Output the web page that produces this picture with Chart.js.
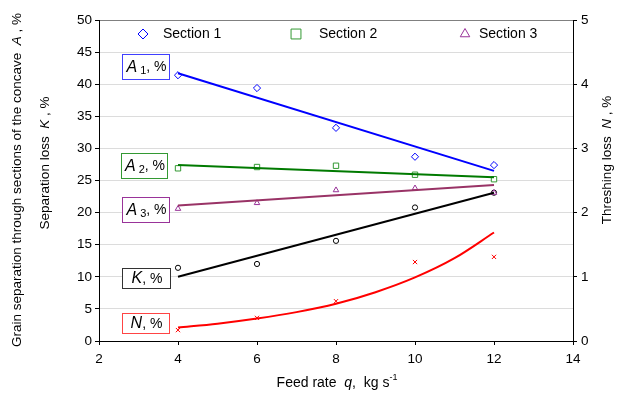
<!DOCTYPE html>
<html>
<head>
<meta charset="utf-8">
<script src="https://cdn.jsdelivr.net/npm/chart.js@4"></script>
<style>
  html, body { margin: 0; padding: 0; background: #fff; }
  #wrap { width: 627px; height: 396px; }
</style>
</head>
<body>
<div id="wrap"><canvas id="chart" width="627" height="396"></canvas></div>
<script>
// feed rate q, kg/s
const feedRate = [4, 6, 8, 10, 12]
// measured points
const section1 = [41.4, 39.4, 33.2, 28.7, 27.4]
const section2 = [26.9, 27.1, 27.3, 25.9, 25.2]
const section3 = [20.6, 21.5, 23.5, 23.8, 23.1]
const sepLossK = [11.4, 12.0, 15.6, 20.8, 23.1]
const threshLossN = [0.17, 0.36, 0.62, 1.23, 1.31]
// trend lines
const trendX = [4, 12]
const trendA1 = [41.7, 26.5]
const trendA2 = [27.4, 25.5]
const trendA3 = [21.1, 24.3]
const trendK = [10.0, 23.1]
const trendNx = [4, 5, 6, 7, 8, 9, 10, 11, 12]
const trendN = [0.21, 0.27, 0.35, 0.45, 0.58, 0.76, 0.99, 1.29, 1.69]

const FONT = "'Liberation Sans', Arial, sans-serif"

const pts = (xs, ys) => xs.map((x, i) => ({ x, y: ys[i] }))

const marker = (label, data, color, style, size, axis) => ({
  type: 'scatter',
  label,
  data,
  yAxisID: axis || 'y',
  showLine: false,
  pointStyle: style,
  pointRadius: size,
  pointBorderWidth: 1,
  pointBackgroundColor: 'rgba(255,255,255,1)',
  pointBorderColor: color,
  borderColor: color,
  backgroundColor: 'rgba(255,255,255,1)',
})

const trend = (data, color, axis, smooth) => ({
  type: 'line',
  data,
  yAxisID: axis || 'y',
  borderColor: color,
  borderWidth: 2,
  pointRadius: 0,
  fill: false,
  cubicInterpolationMode: smooth ? 'monotone' : 'default',
  tension: smooth ? 0.4 : 0,
})

// draw a row of text pieces (plain / italic / sub / sup)
function richText(ctx, parts, x, y, align) {
  let w = 0
  parts.forEach(p => {
    ctx.font = (p.italic ? 'italic ' : '') + (p.size || 14) + 'px ' + FONT
    p.w = ctx.measureText(p.t).width
    w += p.w
  })
  let cx = align === 'center' ? x - w / 2 : x
  ctx.textBaseline = 'middle'
  ctx.textAlign = 'left'
  parts.forEach(p => {
    ctx.font = (p.italic ? 'italic ' : '') + (p.size || 14) + 'px ' + FONT
    ctx.fillText(p.t, cx, y + (p.dy || 0))
    cx += p.w
  })
}

const labelBoxes = [
  { sym: 'A', sub: '1', x: 122, y: 54, w: 47, h: 25, color: '#4040ff' },
  { sym: 'A', sub: '2', x: 121, y: 153, w: 46, h: 25, color: '#339933' },
  { sym: 'A', sub: '3', x: 122, y: 197, w: 47, h: 25, color: '#993399' },
  { sym: 'K', sub: '', x: 122, y: 268, w: 48, h: 20, color: '#333333' },
  { sym: 'N', sub: '', x: 122, y: 313, w: 47, h: 20, color: '#ff4444' },
]

const legendItems = [
  { text: 'Section 1', mx: 143, tx: 163, color: '#0000ff', style: 'rectRot', r: 5 },
  { text: 'Section 2', mx: 296, tx: 319, color: '#339933', style: 'rect', r: 7 },
  { text: 'Section 3', mx: 465, tx: 479, color: '#993399', style: 'triangle', r: 5.5 },
]

const decor = {
  id: 'decor',
  afterDraw(chart) {
    const ctx = chart.ctx
    ctx.save()

    // legend inside the plot
    legendItems.forEach(it => {
      ctx.strokeStyle = it.color
      ctx.fillStyle = '#fff'
      ctx.lineWidth = 1
      Chart.helpers.drawPoint(ctx, { pointStyle: it.style, radius: it.r, rotation: 0, borderWidth: 1 }, it.mx, 34)
      ctx.fillStyle = '#000'
      ctx.font = '14px ' + FONT
      ctx.textBaseline = 'middle'
      ctx.textAlign = 'left'
      ctx.fillText(it.text, it.tx, 34)
    })

    // boxed series labels
    labelBoxes.forEach(b => {
      ctx.fillStyle = '#fff'
      ctx.fillRect(b.x, b.y, b.w, b.h)
      ctx.strokeStyle = b.color
      ctx.lineWidth = 1
      ctx.strokeRect(b.x + 0.5, b.y + 0.5, b.w, b.h)
      ctx.fillStyle = '#000'
      const parts = [{ t: b.sym, italic: true, size: 16 }]
      if (b.sub) parts.push({ t: ' ' + b.sub, size: 11, dy: 3 })
      parts.push({ t: ', %', size: 14 })
      richText(ctx, parts, b.x + b.w / 2 + 1, b.y + b.h / 2 + 1, 'center')
    })

    // axis titles
    ctx.fillStyle = '#000'
    richText(ctx, [
      { t: 'Feed rate  ' },
      { t: 'q', italic: true },
      { t: ',  kg s' },
      { t: '-1', size: 9, dy: -5 },
    ], 337, 383, 'center')

    ctx.save()
    ctx.translate(17, 180)
    ctx.rotate(-Math.PI / 2)
    richText(ctx, [
      { t: 'Grain separation through sections of the concave  ', size: 13.5 },
      { t: 'A', italic: true, size: 13.5 },
      { t: ' , %', size: 13.5 },
    ], 0, 0, 'center')
    ctx.restore()

    ctx.save()
    ctx.translate(45, 163)
    ctx.rotate(-Math.PI / 2)
    richText(ctx, [
      { t: 'Separation loss  ', size: 13.5 },
      { t: 'K', italic: true, size: 13.5 },
      { t: ' , %', size: 13.5 },
    ], 0, 0, 'center')
    ctx.restore()

    ctx.save()
    ctx.translate(607, 160)
    ctx.rotate(-Math.PI / 2)
    richText(ctx, [
      { t: 'Threshing loss  ', size: 13.5 },
      { t: 'N', italic: true, size: 13.5 },
      { t: ' , %', size: 13.5 },
    ], 0, 0, 'center')
    ctx.restore()

    ctx.restore()
  },
}

const tickFont = { family: FONT, size: 13.5 }

new Chart(document.getElementById('chart'), {
  data: {
    datasets: [
      trend(pts(trendX, trendA1), '#0000ff'),
      trend(pts(trendX, trendA2), '#007a00'),
      trend(pts(trendX, trendA3), '#993366'),
      trend(pts(trendX, trendK), '#000000'),
      trend(pts(trendNx, trendN), '#ff0000', 'y2', true),
      marker('Section 1', pts(feedRate, section1), '#0000ff', 'rectRot', 3.6),
      marker('Section 2', pts(feedRate, section2), '#339933', 'rect', 3.8),
      marker('Section 3', pts(feedRate, section3), '#993399', 'triangle', 3.2),
      marker('K', pts(feedRate, sepLossK), '#000000', 'circle', 2.6),
      marker('N', pts(feedRate, threshLossN), '#ff0000', 'crossRot', 3, 'y2'),
    ],
  },
  options: {
    responsive: false,
    animation: false,
    layout: { padding: { top: 20, left: 0, right: 0, bottom: 0 } },
    plugins: { legend: { display: false }, tooltip: { enabled: false } },
    scales: {
      x: {
        type: 'linear',
        min: 2,
        max: 14,
        ticks: { stepSize: 2, font: tickFont, color: '#000', padding: 6 },
        grid: { drawOnChartArea: false, tickLength: 4, tickColor: '#000' },
        border: { color: '#000', width: 1 },
        afterFit(s) { s.height = 55 },
      },
      y: {
        position: 'left',
        min: 0,
        max: 50,
        ticks: { stepSize: 5, font: tickFont, color: '#000', padding: 3 },
        grid: {
          color: ctx => (ctx.tick && ctx.tick.value === 50 ? '#808080' : '#dcdcdc'),
          tickLength: 4,
          tickColor: '#000',
        },
        border: { color: '#000', width: 1 },
        afterFit(s) { s.width = 99 },
      },
      y2: {
        position: 'right',
        min: 0,
        max: 5,
        ticks: { stepSize: 1, font: tickFont, color: '#000', padding: 4 },
        grid: { drawOnChartArea: false, tickLength: 4, tickColor: '#000' },
        border: { color: '#000', width: 1 },
        afterFit(s) { s.width = 54 },
      },
    },
  },
  plugins: [decor],
})
</script>
</body>
</html>
